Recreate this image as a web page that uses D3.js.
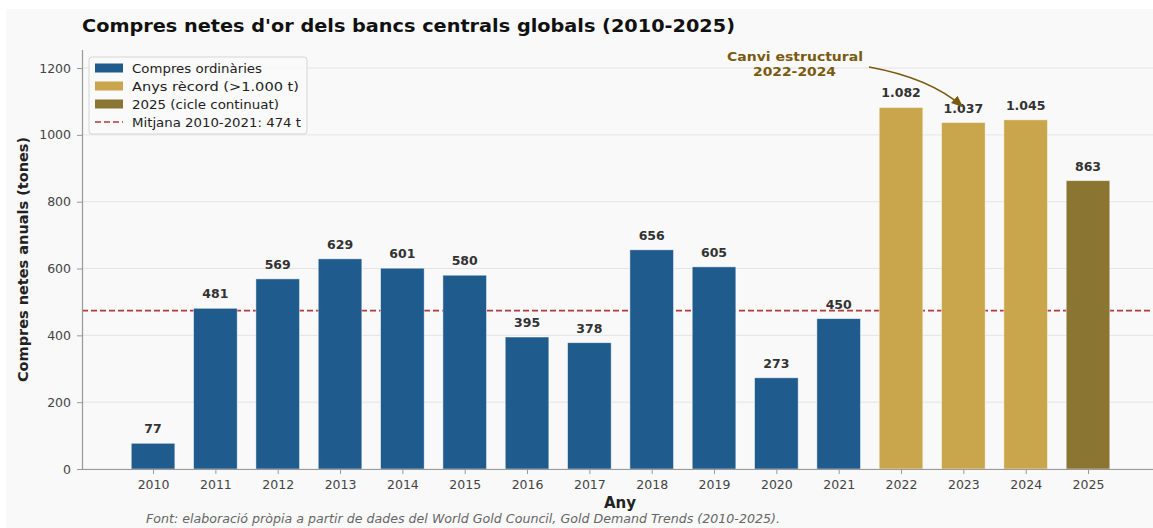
<!DOCTYPE html>
<html>
<head>
<meta charset="utf-8">
<script src="https://cdn.jsdelivr.net/npm/d3@7"></script>
<style>
  body { margin: 0; background: #ffffff; }
  text { font-family: "DejaVu Sans", sans-serif; }
</style>
</head>
<body>
<div id="chart"></div>
<script>
// data
var years = ["2010", "2011", "2012", "2013", "2014", "2015", "2016", "2017",
             "2018", "2019", "2020", "2021", "2022", "2023", "2024", "2025"];
var purchases = [77, 481, 569, 629, 601, 580, 395, 378, 656, 605, 273, 450, 1082, 1037, 1045, 863];
var barLabels = ["77", "481", "569", "629", "601", "580", "395", "378", "656", "605", "273", "450",
                 "1.082", "1.037", "1.045", "863"];
var yTicks = [0, 200, 400, 600, 800, 1000, 1200];
var meanValue = 474;
var legendLabels = ["Compres ordinàries", "Anys rècord (>1.000 t)", "2025 (cicle continuat)", "Mitjana 2010-2021: 474 t"];

var svgWidth = 1153;
var svgHeight = 528;
var margin = { top: 50, right: -8, bottom: 59, left: 82 };
var width = svgWidth - margin.left - margin.right;
var height = svgHeight - margin.top - margin.bottom;

var colBlue = "#1f5b8c", colGold = "#c9a54b", colOlive = "#8a7533";
function barColor(y, v) {
  if (y === "2025") return colOlive;
  if (v > 1000) return colGold;
  return colBlue;
}

var svg = d3.select("#chart").append("svg")
  .attr("width", svgWidth)
  .attr("height", svgHeight);

svg.append("rect")
  .attr("x", 6).attr("y", 9)
  .attr("width", svgWidth - 6).attr("height", svgHeight - 9)
  .attr("fill", "#f9f9f9");

var chartGroup = svg.append("g")
  .attr("transform", `translate(${margin.left}, ${margin.top})`);

// scales
var step = 62.33;
var xScale = d3.scaleLinear()
  .domain([-1.14, 16.2])
  .range([0, 17.34 * step]);

var yScale = d3.scaleLinear()
  .domain([0, 1254])
  .range([height, 0]);

var barW = 0.7 * step;

// grid
chartGroup.selectAll(".grid")
  .data(yTicks)
  .enter()
  .append("line")
  .attr("x1", 0).attr("x2", width)
  .attr("y1", d => yScale(d)).attr("y2", d => yScale(d))
  .attr("stroke", "#e4e4e4")
  .attr("stroke-width", 1);

// mean line
chartGroup.append("line")
  .attr("x1", 0).attr("x2", width)
  .attr("y1", yScale(meanValue)).attr("y2", yScale(meanValue))
  .attr("stroke", "#b5393a")
  .attr("stroke-width", 1.6)
  .attr("stroke-dasharray", "6,3");

// bars
chartGroup.selectAll(".bar")
  .data(purchases)
  .enter()
  .append("rect")
  .attr("x", (d, i) => xScale(i) - barW / 2)
  .attr("y", d => yScale(d))
  .attr("width", barW)
  .attr("height", d => height - yScale(d))
  .attr("fill", (d, i) => barColor(years[i], d))
  .attr("stroke", "#ffffff")
  .attr("stroke-opacity", 0.6)
  .attr("stroke-width", 0.8);

// value labels
chartGroup.selectAll(".label")
  .data(purchases)
  .enter()
  .append("text")
  .attr("x", (d, i) => xScale(i))
  .attr("y", d => yScale(d) - 10)
  .attr("text-anchor", "middle")
  .attr("font-size", "12.5px")
  .attr("font-weight", "bold")
  .attr("fill", "#333333")
  .text((d, i) => barLabels[i]);

// axes
var bottomAxis = d3.axisBottom(xScale)
  .tickValues(d3.range(years.length))
  .tickFormat(i => years[i])
  .tickSize(5)
  .tickPadding(6);
var leftAxis = d3.axisLeft(yScale)
  .tickValues(yTicks)
  .tickFormat(d3.format("d"))
  .tickSize(5)
  .tickPadding(6);

var xAxisG = chartGroup.append("g")
  .attr("transform", `translate(0, ${height})`)
  .call(bottomAxis);
var yAxisG = chartGroup.append("g").call(leftAxis);

[xAxisG, yAxisG].forEach(function(g) {
  g.select(".domain").attr("stroke", "#999999").attr("stroke-width", 1.2);
  g.selectAll(".tick line").attr("stroke", "#999999");
  g.selectAll(".tick text")
    .attr("fill", "#444444")
    .attr("font-size", "12.5px")
    .attr("font-family", "DejaVu Sans, sans-serif");
});
xAxisG.select(".domain").attr("d", `M0,0.5H${width}`);
yAxisG.select(".domain").attr("d", `M0.5,${height}V0`);

// titles
svg.append("text")
  .attr("x", 82).attr("y", 32)
  .attr("font-size", "18px")
  .attr("font-weight", "bold")
  .attr("fill", "#111111")
  .attr("textLength", 653)
  .attr("lengthAdjust", "spacingAndGlyphs")
  .text("Compres netes d'or dels bancs centrals globals (2010-2025)");

svg.append("text")
  .attr("transform", `translate(28, ${margin.top + height / 2}) rotate(-90)`)
  .attr("text-anchor", "middle")
  .attr("font-size", "14.5px")
  .attr("font-weight", "bold")
  .attr("fill", "#222222")
  .text("Compres netes anuals (tones)");

svg.append("text")
  .attr("x", 620).attr("y", 508)
  .attr("text-anchor", "middle")
  .attr("font-size", "15px")
  .attr("font-weight", "bold")
  .attr("fill", "#222222")
  .text("Any");

svg.append("text")
  .attr("x", 146).attr("y", 523)
  .attr("font-size", "12px")
  .attr("font-style", "italic")
  .attr("fill", "#666666")
  .attr("textLength", 634)
  .attr("lengthAdjust", "spacingAndGlyphs")
  .text("Font: elaboració pròpia a partir de dades del World Gold Council, Gold Demand Trends (2010-2025).");

// annotation
var annot = svg.append("g")
  .attr("font-size", "13px")
  .attr("font-weight", "bold")
  .attr("fill", "#7a5a0f");
annot.append("text").attr("x", 727).attr("y", 61)
  .attr("textLength", 136).attr("lengthAdjust", "spacingAndGlyphs")
  .text("Canvi estructural");
annot.append("text").attr("x", 753).attr("y", 76)
  .attr("textLength", 83).attr("lengthAdjust", "spacingAndGlyphs")
  .text("2022-2024");

svg.append("defs").append("marker")
  .attr("id", "arrow")
  .attr("viewBox", "0 0 10 10")
  .attr("refX", 9).attr("refY", 5)
  .attr("markerWidth", 8).attr("markerHeight", 8)
  .attr("orient", "auto")
  .append("path")
  .attr("d", "M0,1 L10,5 L0,9 Z")
  .attr("fill", "#7a5a0f");

var ax = margin.left + xScale(13) - 1, ay = margin.top + yScale(1037) - 16;
svg.append("path")
  .attr("d", `M869,67 Q930,78 ${ax},${ay}`)
  .attr("fill", "none")
  .attr("stroke", "#7a5a0f")
  .attr("stroke-width", 1.5)
  .attr("marker-end", "url(#arrow)");

// legend
var legend = svg.append("g").attr("transform", "translate(89, 57)");
legend.append("rect")
  .attr("width", 218).attr("height", 77)
  .attr("rx", 3)
  .attr("fill", "#fafafa")
  .attr("fill-opacity", 0.9)
  .attr("stroke", "#d5d5d5");
var legendColors = [colBlue, colGold, colOlive];
var legendWidths = [130, 167, 147, 169];
legendLabels.forEach(function(lbl, i) {
  var yy = 11 + i * 18;
  if (i < 3) {
    legend.append("rect")
      .attr("x", 6).attr("y", yy - 4.5)
      .attr("width", 28).attr("height", 9)
      .attr("fill", legendColors[i]);
  } else {
    legend.append("line")
      .attr("x1", 6).attr("x2", 34)
      .attr("y1", yy).attr("y2", yy)
      .attr("stroke", "#b5393a")
      .attr("stroke-width", 1.6)
      .attr("stroke-dasharray", "6,3");
  }
  legend.append("text")
    .attr("x", 43).attr("y", yy + 4.5)
    .attr("font-size", "12.5px")
    .attr("fill", "#222222")
    .attr("textLength", legendWidths[i])
    .attr("lengthAdjust", "spacingAndGlyphs")
    .text(lbl);
});
</script>
</body>
</html>
